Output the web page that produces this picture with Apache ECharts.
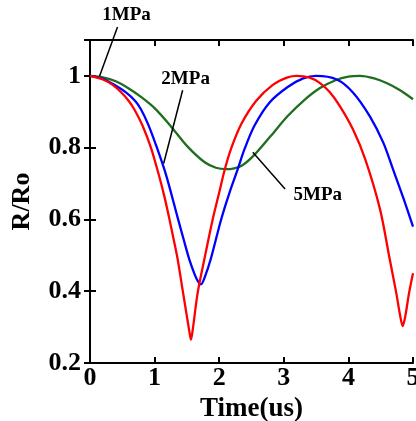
<!DOCTYPE html>
<html>
<head>
<meta charset="utf-8">
<script src="https://cdn.jsdelivr.net/npm/echarts@6/dist/echarts.min.js"></script>
<style>
  html, body { margin: 0; padding: 0; background: #fff; }
  #chart { width: 416px; height: 421px; }
</style>
</head>
<body>
<div id="chart"></div>
<script>
// Normalised bubble radius R/Ro versus time (us) for three driving pressures.
const series1MPa = [
  [0, 1.0], [0.2, 0.99], [0.35, 0.975], [0.478, 0.955], [0.6, 0.93],
  [0.685, 0.907], [0.814, 0.861], [0.943, 0.8], [1.07, 0.721], [1.15, 0.665],
  [1.227, 0.603], [1.3, 0.54], [1.357, 0.489], [1.434, 0.403], [1.5, 0.33],
  [1.54, 0.286], [1.563, 0.265], [1.59, 0.292], [1.667, 0.396], [1.77, 0.489],
  [1.899, 0.6], [2.0, 0.675], [2.08, 0.735], [2.18, 0.795], [2.34, 0.865],
  [2.57, 0.93], [2.83, 0.975], [3.06, 0.996], [3.2, 1.0], [3.4, 0.995],
  [3.56, 0.98], [3.71, 0.955], [3.87, 0.915], [4.07, 0.851], [4.26, 0.768],
  [4.49, 0.628], [4.64, 0.489], [4.74, 0.396], [4.8, 0.333], [4.84, 0.303],
  [4.88, 0.33], [4.94, 0.396], [5.0, 0.45]
];
const series2MPa = [
  [0, 1.0], [0.2, 0.992], [0.35, 0.978], [0.556, 0.954], [0.7, 0.93],
  [0.788, 0.907], [0.9, 0.865], [1.02, 0.808], [1.176, 0.725], [1.357, 0.605],
  [1.45, 0.544], [1.537, 0.489], [1.62, 0.447], [1.67, 0.428], [1.718, 0.419],
  [1.77, 0.436], [1.873, 0.492], [2.03, 0.6], [2.16, 0.675], [2.287, 0.74],
  [2.39, 0.795], [2.545, 0.861], [2.78, 0.926], [3.06, 0.969], [3.3, 0.993],
  [3.5, 1.0], [3.82, 0.99], [4.07, 0.954], [4.33, 0.888], [4.54, 0.814],
  [4.69, 0.74], [4.85, 0.66], [5.0, 0.58]
];
const series5MPa = [
  [0, 1.0], [0.2, 0.996], [0.4, 0.985], [0.6, 0.965], [0.8, 0.94],
  [1.0, 0.91], [1.25, 0.86], [1.5, 0.805], [1.77, 0.76], [1.95, 0.744],
  [2.106, 0.74], [2.34, 0.749], [2.545, 0.78], [2.8, 0.833], [3.06, 0.888],
  [3.3, 0.93], [3.56, 0.966], [3.8, 0.988], [4.0, 0.998], [4.18, 1.0],
  [4.4, 0.993], [4.59, 0.98], [4.8, 0.96], [5.0, 0.935]
];
const xTicks = [0, 1, 2, 3, 4, 5];
const yTicks = [0.2, 0.4, 0.6, 0.8, 1];

// Callout labels: text anchor and leader line end points, in data units.
const callouts = [
  { text: '1MPa', at: [0.566, 1.169], from: [0.426, 1.136], to: [0.147, 0.999] },
  { text: '2MPa', at: [1.48, 0.991], from: [1.434, 0.96], to: [1.14, 0.756] },
  { text: '5MPa', at: [3.527, 0.667], from: [2.52, 0.787], to: [3.02, 0.685] }
];

const FONT = '"Liberation Serif", "Times New Roman", serif';
const chart = echarts.init(document.getElementById('chart'));

const tickStyle = { show: true, inside: true, length: 6, lineStyle: { color: '#000', width: 2 } };
const lineStyleBlack = { show: true, lineStyle: { color: '#000', width: 2 } };

function lineSeries(name, data, color) {
  return {
    name, type: 'line', data, smooth: 0.3, symbol: 'none',
    lineStyle: { color, width: 2.3 }, itemStyle: { color },
    xAxisIndex: 0, yAxisIndex: 0, z: 3
  };
}

chart.setOption({
  animation: false,
  backgroundColor: '#fff',
  grid: {
    left: 90, right: 3, top: 40, bottom: 58, show: false,
    containLabel: false, outerBoundsMode: 'none'
  },
  xAxis: [
    {
      type: 'value', min: xTicks[0], max: xTicks[xTicks.length - 1], interval: 1,
      position: 'bottom',
      axisLine: lineStyleBlack, axisTick: tickStyle, splitLine: { show: false },
      axisLabel: { color: '#000', fontFamily: FONT, fontWeight: 'bold', fontSize: 26, margin: 2 },
      name: 'Time(us)', nameLocation: 'middle', nameGap: 24,
      nameTextStyle: { color: '#000', fontFamily: FONT, fontWeight: 'bold', fontSize: 27 }
    },
    {
      type: 'value', min: xTicks[0], max: xTicks[xTicks.length - 1], interval: 1,
      position: 'top',
      axisLine: lineStyleBlack, axisTick: tickStyle, splitLine: { show: false },
      axisLabel: { show: false }
    }
  ],
  yAxis: [
    {
      type: 'value', min: yTicks[0], max: 1.1, interval: 0.2,
      position: 'left',
      axisLine: lineStyleBlack, axisTick: tickStyle, splitLine: { show: false },
      axisLabel: {
        color: '#000', fontFamily: FONT, fontWeight: 'bold', fontSize: 26, margin: 9,
        showMaxLabel: false,
        formatter: v => (yTicks.some(t => Math.abs(t - v) < 1e-9) ? String(+v.toFixed(1)) : '')
      },
      name: 'R/Ro', nameLocation: 'middle', nameGap: 55, nameRotate: 90,
      nameTextStyle: { color: '#000', fontFamily: FONT, fontWeight: 'bold', fontSize: 26 }
    },
    {
      type: 'value', min: yTicks[0], max: 1.1, interval: 0.2,
      position: 'right',
      axisLine: lineStyleBlack, axisTick: tickStyle, splitLine: { show: false },
      axisLabel: { show: false }
    }
  ],
  series: [
    lineSeries('5MPa', series5MPa, '#1e6e1e'),
    lineSeries('2MPa', series2MPa, '#0000ff'),
    lineSeries('1MPa', series1MPa, '#ff0000')
  ]
});

// Callout texts and leader lines, positioned through the chart's own scales.
const toPx = p => chart.convertToPixel({ xAxisIndex: 0, yAxisIndex: 0 }, p);
const graphics = [];
callouts.forEach(c => {
  const a = toPx(c.from), b = toPx(c.to), t = toPx(c.at);
  graphics.push({
    type: 'line', shape: { x1: a[0], y1: a[1], x2: b[0], y2: b[1] },
    style: { stroke: '#000', lineWidth: 1.5 }, z: 10
  });
  graphics.push({
    type: 'text', x: t[0], y: t[1],
    style: {
      text: c.text, fill: '#000', font: 'bold 19px ' + FONT,
      textAlign: 'center', textVerticalAlign: 'middle'
    }, z: 10
  });
});
chart.setOption({ graphic: graphics });
</script>
</body>
</html>
